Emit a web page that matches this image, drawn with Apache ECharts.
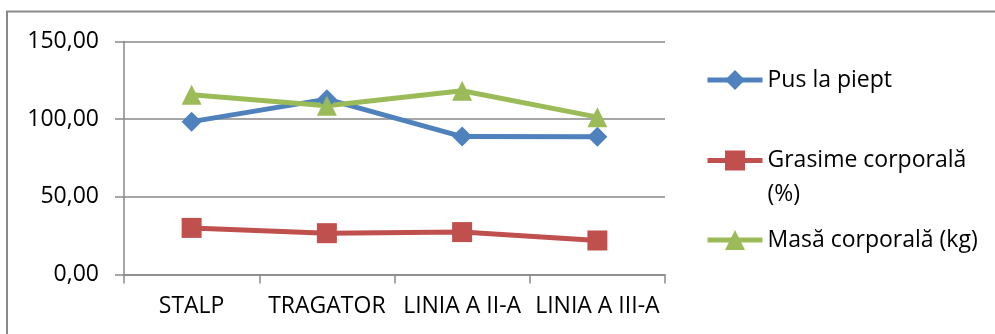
<!DOCTYPE html>
<html>
<head>
<meta charset="utf-8">
<script src="https://cdn.jsdelivr.net/npm/echarts@6/dist/echarts.min.js"></script>
<style>
  html, body { margin: 0; padding: 0; background: #fff; }
  #chart { width: 995px; height: 334px; }
</style>
</head>
<body>
<div id="chart"></div>
<script>
// Categories along the x axis
const categories = ['STALP', 'TRAGATOR', 'LINIA A II-A', 'LINIA A III-A'];

// Series values
const pusLaPiept = [98.4, 112.9, 88.8, 88.6];
const grasimeCorporala = [30.0, 26.6, 27.3, 21.9];
const masaCorporala = [115.7, 108.6, 118.3, 101.3];

// Series names and y-axis tick labels
const seriesNames = ['Pus la piept', 'Grasime corporală (%)', 'Masă corporală (kg)'];
const yTickLabels = ['0,00', '50,00', '100,00', '150,00'];

const FONT = "'Open Sans', sans-serif";
const GRAY = '#898989';
const COLORS = ['#4F81BD', '#C0504D', '#9BBB59'];
const SYMBOLS = ['diamond', 'rect', 'triangle'];

const chart = echarts.init(document.getElementById('chart'), null, { renderer: 'canvas' });

function legendFor(idx, top, extra) {
  return Object.assign({
    data: [seriesNames[idx]],
    left: 705,
    top: top,
    orient: 'vertical',
    padding: 0,
    itemWidth: 55,
    itemHeight: 25,
    selectedMode: false,
    lineStyle: { width: 5 },
    textStyle: { fontFamily: FONT, fontSize: 23, color: '#000', lineHeight: 28 }
  }, extra || {});
}

const option = {
  animation: false,
  backgroundColor: '#fff',
  graphic: [{
    type: 'rect',
    shape: { x: 7, y: 11.5, width: 1100, height: 400 },
    style: { fill: 'none', stroke: GRAY, lineWidth: 2 },
    silent: true
  }],
  grid: { left: 124, right: 330, top: 41.5, bottom: 59.5, containLabel: false },
  legend: [
    legendFor(0, 66),
    // The wrapped entry keeps its first line level with the icon: an empty
    // leading line balances the "(%)" line below it.
    legendFor(1, 109.5, {
      formatter: function () { return '\nGrasime corporală\n(%)'; },
      textStyle: { fontFamily: FONT, fontSize: 23, color: '#000', lineHeight: 34 }
    }),
    legendFor(2, 226)
  ],
  xAxis: {
    type: 'category',
    data: categories,
    boundaryGap: true,
    axisLine: { show: true, lineStyle: { color: GRAY, width: 1.5 } },
    axisTick: { show: true, alignWithLabel: false, length: 9, lineStyle: { color: GRAY, width: 1.5 } },
    axisLabel: { fontFamily: FONT, fontSize: 23, color: '#000', margin: 20, interval: 0 },
    splitLine: { show: false }
  },
  yAxis: {
    type: 'value',
    min: 0,
    max: 150,
    interval: 50,
    axisLine: { show: true, lineStyle: { color: GRAY, width: 1.5 } },
    axisTick: { show: true, length: 9, lineStyle: { color: GRAY, width: 1.5 } },
    axisLabel: {
      fontFamily: FONT, fontSize: 23, color: '#000', margin: 25,
      formatter: function (v) { return yTickLabels[Math.round(v / 50)]; }
    },
    splitLine: { show: true, lineStyle: { color: GRAY, width: 1.5 } }
  },
  series: [pusLaPiept, grasimeCorporala, masaCorporala].map(function (values, i) {
    return {
      name: seriesNames[i],
      type: 'line',
      data: values,
      symbol: SYMBOLS[i],
      symbolSize: 20,
      showAllSymbol: true,
      lineStyle: { color: COLORS[i], width: 5 },
      itemStyle: { color: COLORS[i] },
      emphasis: { disabled: true }
    };
  })
};

chart.setOption(option);
</script>
</body>
</html>
